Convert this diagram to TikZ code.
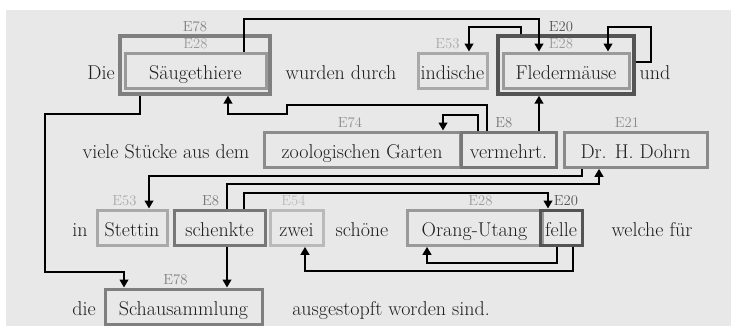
\documentclass[tikz,border=0pt]{standalone}
\usetikzlibrary{arrows.meta}
\definecolor{paper}{HTML}{E8E8E8}
\definecolor{ink}{HTML}{1E1E1E}
\definecolor{c78}{HTML}{7F7F7F}
\definecolor{c28}{HTML}{9A9A9A}
\definecolor{c53}{HTML}{A9A9A9}
\definecolor{c20}{HTML}{545454}
\definecolor{c74}{HTML}{8C8C8C}
\definecolor{c8}{HTML}{777777}
\definecolor{c21}{HTML}{8A8A8A}
\definecolor{c54}{HTML}{BABABA}
\newcommand{\pxl}{0.75pt}
\begin{document}
\begin{tikzpicture}[x=0.75pt, y=-0.75pt,
    word/.style={anchor=base, inner sep=0pt, text=ink, font=\fontsize{15}{18}\selectfont},
    ebox/.style={word, draw, line width=2.25pt, text height=19.5pt, text depth=7pt},
    obox/.style={draw, line width=2.5pt, inner sep=0pt, minimum height=43.5pt},
    etag/.style={font=\fontsize{11}{12}\selectfont, inner sep=2pt},
    link/.style={line width=1.5pt, -{Triangle[length=6pt,width=6.5pt]}}]
    \useasboundingbox (0,0) rectangle (731,326);
    \fill[white] (0,0) rectangle (731,326);
    \fill[paper] (6,10) rectangle (731,326);

    \node[word] (die) at (101,79) {Die};
    \node[obox, draw=c78, minimum width=150*\pxl, label={[etag,c78]above:E78}] (saeuO) at (195,65) {};
    \node[ebox, draw=c28, minimum width=141*\pxl, label={[etag,c28]above:E28}] (saeu) at (195.5,79) {Säugethiere};
    \node[word] (wurden) at (341,79) {wurden durch};
    \node[ebox, draw=c53, minimum width=69*\pxl, label={[etag,c53,xshift=-3.75pt]above:E53}] (indi) at (452.5,79) {indische};
    \node[obox, draw=c20, minimum width=136*\pxl, label={[etag,c20,xshift=-3.75pt]above:E20}] (fledO) at (566,65) {};
    \node[ebox, draw=c28, minimum width=126*\pxl, label={[etag,c28,xshift=-3.75pt]above:E28}] (fled) at (566,79) {Fledermäuse};
    \node[word] (und) at (655,79) {und};

    \node[word] (viele) at (166,158) {viele Stücke aus dem};
    \node[ebox, draw=c74, minimum width=196*\pxl, label={[etag,c74,xshift=-9pt]above:E74}] (zoo) at (362,158) {zoologischen Garten};
    \node[ebox, draw=c8, minimum width=95*\pxl, label={[etag,c8,xshift=-3.5pt]above:E8}] (verm) at (508.5,158) {vermehrt.};
    \node[ebox, draw=c21, minimum width=143*\pxl, label={[etag,c21,xshift=-6.4pt]above:E21}] (dohrn) at (635.5,158) {Dr. H. Dohrn};

    \node[word] (in) at (80,236) {in};
    \node[ebox, draw=c53, minimum width=70*\pxl, label={[etag,c53,xshift=-5.6pt]above:E53}] (stet) at (132,236) {Stettin};
    \node[ebox, draw=c8, minimum width=91*\pxl, label={[etag,c8,xshift=-6.75pt]above:E8}] (schenk) at (219.5,236) {schenkte};
    \node[ebox, draw=c54, minimum width=53*\pxl, label={[etag,c54,xshift=-2.25pt]above:E54}] (zwei) at (296.5,236) {zwei};
    \node[word] (schoene) at (362,236) {schöne};
    \node[ebox, draw=c28, minimum width=135*\pxl, label={[etag,c28,xshift=4.5pt]above:E28}] (orang) at (474.5,236) {Orang-Utang};
    \node[ebox, draw=c20, minimum width=42*\pxl, label={[etag,c20,xshift=3.75pt]above:E20}] (felle) at (561,236) {felle};
    \node[word] (welche) at (652,236) {welche für};

    \node[word] (die2) at (84,315) {die};
    \node[ebox, draw=c78, minimum width=157*\pxl, label={[etag,c78,xshift=-6pt]above:E78}] (schau) at (183.5,315) {Schausammlung};
    \node[word] (ausgest) at (391,315) {ausgestopft worden sind.};

    \draw[link] (saeu.north -| 244,0) |- (539,19) -- (fled.north -| 539,0);
    \draw[link] (fledO.north -| 521,0) |- (469,27) -- (indi.north -| 469,0);
    \draw[link] (fledO.east |- 0,62) -| (651,27) -| (fled.north -| 608,0);
    \draw[link] (saeuO.south -| 140,0) |- (45,114) |- (124,272) -- (schau.north -| 124,0);
    \draw[link] (verm.north -| 539,0) -- (fledO.south -| 539,0);
    \draw[link] (verm.north -| 487,0) |- (287,105) |- (228,114) -- (saeuO.south -| 228,0);
    \draw[link] (verm.north -| 478,0) |- (443,115) -- (zoo.north -| 443,0);
    \draw[link] (dohrn.south -| 582,0) |- (149,176) -- (stet.north -| 149,0);
    \draw[link] (schenk.north -| 227,0) |- (599,184) -- (dohrn.south -| 599,0);
    \draw[link] (schenk.north -| 244,0) |- (548,193) -- (felle.north -| 548,0);
    \draw[link] (schenk.south -| 227,0) -- (schau.north -| 227,0);
    \draw[link] (felle.south -| 557,0) |- (427,263) -- (orang.south -| 427,0);
    \draw[link] (felle.south -| 573,0) |- (305,271) -- (zwei.south -| 305,0);
\end{tikzpicture}
\end{document}
